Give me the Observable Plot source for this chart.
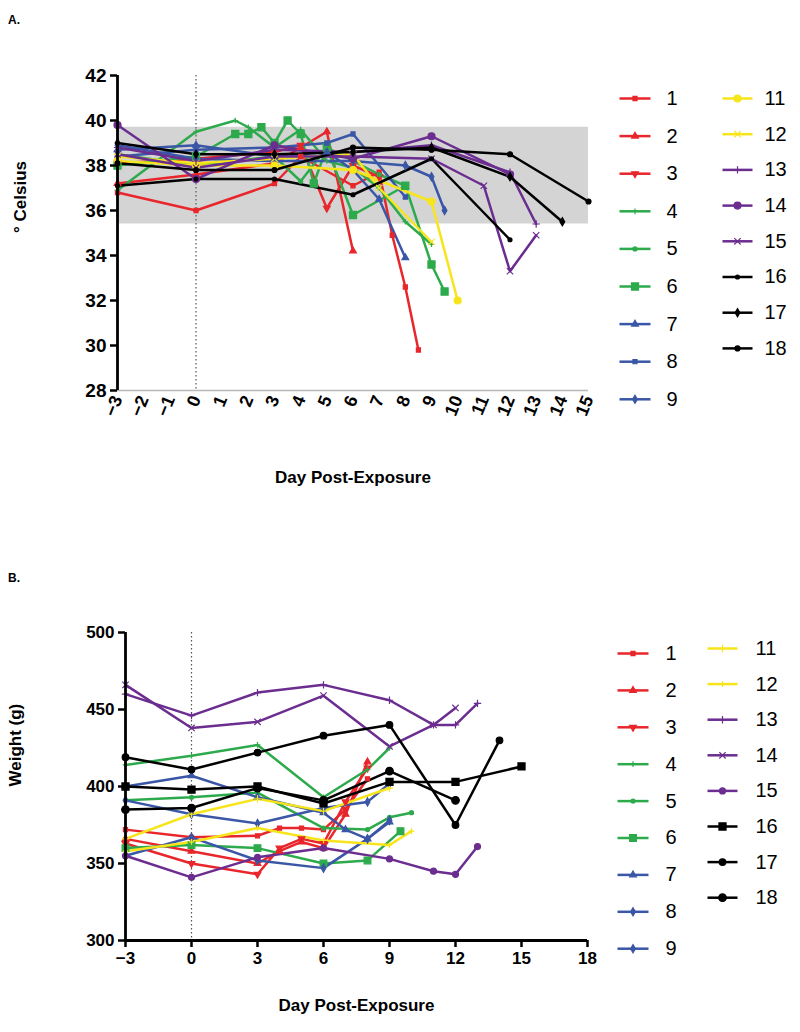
<!DOCTYPE html>
<html><head><meta charset="utf-8">
<script src="https://cdn.jsdelivr.net/npm/d3@7"></script>
<script src="https://cdn.jsdelivr.net/npm/@observablehq/plot@0.6"></script>
<style>
body{margin:0;background:#fff;font-family:"Liberation Sans",Arial,sans-serif;}
#wrap{position:relative;width:800px;height:1032px;overflow:hidden;}
.abs{position:absolute;}
.plabel{font-weight:bold;font-size:12px;}
</style></head><body><div id="wrap"></div>
<script>
// ---------- Panel A: body temperature (°C) ----------
const tempS1  = [[-3,36.8],[0,36.0],[3,37.2],[4,38.4],[6,37.1],[7,37.7],[7.5,34.9],[8,32.6],[8.5,29.8]];
const tempS2  = [[-3,37.2],[0,37.6],[3,38.1],[4,38.8],[5,39.5],[6,34.2]];
const tempS3  = [[-3,38.1],[0,38.3],[3,38.6],[4,38.9],[5,36.1],[6,38.0],[7,37.5]];
const tempS4  = [[-3,36.9],[0,39.5],[1.5,40.0],[2,39.7],[3,38.8],[4,39.6],[5,38.2],[6,37.9],[7,37.0],[8,35.5],[9,34.5]];
const tempS5  = [[-3,38.5],[0,38.0],[3,38.4],[4,37.3],[5,38.8],[6,38.2],[7,37.6],[8,37.1]];
const tempS6  = [[-3,38.0],[0,38.4],[1.5,39.4],[2,39.4],[2.5,39.7],[3,39.0],[3.5,40.0],[4,39.4],[4.5,37.2],[5,38.8],[6,35.8],[8,37.1],[9,33.6],[9.5,32.4]];
const tempS7  = [[-3,38.7],[0,38.9],[3,38.4],[5,38.6],[6,37.8],[7,36.5],[8,33.9]];
const tempS8  = [[-3,38.4],[0,38.7],[3,38.8],[5,39.0],[6,39.4],[8,36.6]];
const tempS9  = [[-3,38.9],[0,38.3],[3,38.2],[6,38.2],[8,38.0],[9,37.5],[9.5,36.0]];
const tempS11 = [[-3,38.2],[0,38.0],[3,38.0],[6,37.8],[9,36.4],[10,32.0]];
const tempS12 = [[-3,38.4],[0,38.1],[3,38.3],[6,38.5],[7,37.0],[9,34.6]];
const tempS13 = [[-3,38.8],[0,38.2],[3,38.7],[6,38.6],[9,38.9],[12,37.7],[13,35.4]];
const tempS14 = [[-3,39.8],[0,37.4],[3,38.9],[6,38.3],[9,39.3],[12,37.6]];
const tempS15 = [[-3,38.5],[0,37.9],[3,38.4],[6,38.4],[9,38.3],[11,37.1],[12,33.3],[13,34.9]];
const tempS16 = [[-3,37.1],[0,37.4],[3,37.4],[6,36.7],[9,38.3],[12,34.7]];
const tempS17 = [[-3,39.0],[0,38.5],[3,38.5],[6,38.6],[9,38.8],[12,37.5],[14,35.5]];
const tempS18 = [[-3,38.1],[0,37.8],[3,37.8],[6,38.8],[9,38.7],[12,38.5],[15,36.4]];
const normalBandLow = 35.4, normalBandHigh = 39.7;
const tempTicksY = [28,30,32,34,36,38,40,42];
const tempTicksX = [-3,-2,-1,0,1,2,3,4,5,6,7,8,9,10,11,12,13,14,15];

// ---------- Panel B: body weight (g) ----------
const weightS1  = [[-3,372],[0,367],[3,368],[4,373],[5,373],[6,372],[7,385],[8,405]];
const weightS2  = [[-3,366],[0,358],[3,350],[4,358],[5,364],[6,360],[7,382],[8,416]];
const weightS3  = [[-3,363],[0,350],[3,343],[4,360],[5,366],[6,363],[7,390],[8,412]];
const weightS4  = [[-3,414],[0,420],[3,427],[6,393],[8,411],[9,425]];
const weightS5  = [[-3,391],[0,393],[3,396],[6,373],[8,372],[9,380],[10,383]];
const weightS6  = [[-3,360],[0,362],[3,360],[6,350],[8,352],[9.5,371]];
const weightS7  = [[-3,400],[0,407],[3,393],[6,383],[7,372],[8,366],[9,377]];
const weightS8  = [[-3,391],[0,382],[3,376],[6,386],[8,390],[9,402]];
const weightS9  = [[-3,355],[0,367],[3,352],[6,347],[8,366],[9,378]];
const weightS11 = [[-3,366],[0,382],[3,392],[6,384],[9,399]];
const weightS12 = [[-3,358],[0,364],[3,373],[6,365],[9,362],[10,371]];
const weightS13 = [[-3,460],[0,446],[3,461],[6,466],[9,456],[11,440],[12,440],[13,454]];
const weightS14 = [[-3,466],[0,438],[3,442],[6,459],[9,426],[11,440],[12,451]];
const weightS15 = [[-3,355],[0,341],[3,354],[6,360],[9,353],[11,345],[12,343],[13,361]];
const weightS16 = [[-3,400],[0,398],[3,400],[6,389],[9,403],[12,403],[15,413]];
const weightS17 = [[-3,419],[0,411],[3,422],[6,433],[9,440],[12,375],[14,430]];
const weightS18 = [[-3,385],[0,386],[3,399],[6,391],[9,410],[12,391]];
const weightTicksY = [300,350,400,450,500];
const weightTicksX = [-3,0,3,6,9,12,15,18];

const seriesIds = ["1","2","3","4","5","6","7","8","9","11","12","13","14","15","16","17","18"];
const tempList = [tempS1,tempS2,tempS3,tempS4,tempS5,tempS6,tempS7,tempS8,tempS9,tempS11,tempS12,tempS13,tempS14,tempS15,tempS16,tempS17,tempS18];
const weightList = [weightS1,weightS2,weightS3,weightS4,weightS5,weightS6,weightS7,weightS8,weightS9,weightS11,weightS12,weightS13,weightS14,weightS15,weightS16,weightS17,weightS18];

// ---------- styles ----------
const RED="#e8262b", GREEN="#2daa4b", BLUE="#3a56a6", YELLOW="#f7e51b", PURPLE="#6b2d8f", BLACK="#000000";
const colorOf = {"1":RED,"2":RED,"3":RED,"4":GREEN,"5":GREEN,"6":GREEN,"7":BLUE,"8":BLUE,"9":BLUE,"11":YELLOW,"12":YELLOW,"13":PURPLE,"14":PURPLE,"15":PURPLE,"16":BLACK,"17":BLACK,"18":BLACK};
const markA = {"1":["square",2.3,0],"2":["triangle",2.5,0],"3":["triangle",2.5,180],"4":["plus",2,0],"5":["circle",2,0],"6":["square",4,0],"7":["triangle",2.5,0],"8":["square",2.3,0],"9":["diamond",2.5,0],"11":["circle",3.5,0],"12":["times",3,0],"13":["plus",2.5,0],"14":["circle",3.5,0],"15":["times",3,0],"16":["circle",2,0],"17":["diamond",2.5,0],"18":["circle",2.5,0]};
const markB = {"1":["square",2.3,0],"2":["triangle",2.5,0],"3":["triangle",2.5,180],"4":["plus",2,0],"5":["circle",2,0],"6":["square",3.8,0],"7":["triangle",2.5,0],"8":["diamond",2.5,0],"9":["diamond",2.5,0],"11":["plus",2.5,0],"12":["plus",2,0],"13":["plus",2.5,0],"14":["times",3,0],"15":["circle",3,0],"16":["square",4,0],"17":["circle",3.3,0],"18":["circle",3.8,0]};

const FONT = '"Liberation Sans", Arial, sans-serif';
const wrap = document.getElementById("wrap");
function place(node, left, top){ node.classList.add("abs"); node.style.left=left+"px"; node.style.top=top+"px"; wrap.appendChild(node); return node; }

function seriesMarks(list, marks){
  const out = [];
  list.forEach((pts, i) => {
    const id = seriesIds[i];
    out.push(Plot.line(pts, {x: d=>d[0], y: d=>d[1], stroke: colorOf[id], strokeWidth: 2.5}));
  });
  list.forEach((pts, i) => {
    const id = seriesIds[i];
    const [sym, r, rot] = marks[id];
    out.push(Plot.dot(pts, {x: d=>d[0], y: d=>d[1], symbol: sym, r, rotate: rot, fill: colorOf[id], stroke: colorOf[id], strokeWidth: 1.2}));
  });
  return out;
}

const la = document.createElement("div"); la.className="plabel"; la.textContent="A."; place(la, 8, 13);
const lb = document.createElement("div"); lb.className="plabel"; lb.textContent="B."; place(lb, 8, 571);

// ---------- Panel A plot ----------
const plotA = Plot.plot({
  width: 600, height: 500,
  marginLeft: 117, marginRight: 12, marginTop: 75, marginBottom: 110,
  x: {domain: [-3, 15]},
  y: {domain: [28, 42]},
  style: {fontFamily: FONT, color: "#000", background: "transparent"},
  marks: [
    Plot.rect([{x1: -3, x2: 15, y1: normalBandLow, y2: normalBandHigh}], {x1:"x1", x2:"x2", y1:"y1", y2:"y2", fill: "#d4d4d4"}),
    Plot.ruleY([28], {stroke: "#b8b8b8", strokeWidth: 1.5}),
    Plot.ruleX([0], {stroke: "#555", strokeWidth: 1.2, strokeDasharray: "1.5,2.5"}),
    ...seriesMarks(tempList, markA),
    Plot.ruleX([-3], {stroke: "#000", strokeWidth: 2.8}),
    Plot.axisY({ticks: tempTicksY, tickSize: 7, tickPadding: 4, strokeWidth: 2.5, fontSize: 19, fontWeight: "bold", label: null}),
    Plot.axisX({ticks: tempTicksX, tickSize: 0, tickPadding: 6, tickRotate: -68, fontSize: 18, fontWeight: "bold", label: null}),
    Plot.text(["° Celsius"], {frameAnchor: "left", dx: -97, rotate: -90, fontSize: 17, fontWeight: "bold"}),
    Plot.text(["Day Post-Exposure"], {frameAnchor: "bottom", dy: 92, fontSize: 17, fontWeight: "bold"})
  ]
});
place(plotA, 0, 0);

// ---------- Panel B plot ----------
const plotB = Plot.plot({
  width: 600, height: 492,
  marginLeft: 125, marginRight: 13, marginTop: 92, marginBottom: 92,
  x: {domain: [-3, 18]},
  y: {domain: [300, 500]},
  style: {fontFamily: FONT, color: "#000", background: "transparent"},
  marks: [
    Plot.ruleX([0], {stroke: "#555", strokeWidth: 1.2, strokeDasharray: "1.5,2.5"}),
    ...seriesMarks(weightList, markB),
    Plot.ruleX([-3], {stroke: "#000", strokeWidth: 2.8}),
    Plot.ruleY([300], {stroke: "#000", strokeWidth: 2.8}),
    Plot.axisY({ticks: weightTicksY, tickSize: 7, tickPadding: 4, strokeWidth: 2.5, fontSize: 17, fontWeight: "bold", label: null}),
    Plot.axisX({ticks: weightTicksX, tickSize: 7, tickPadding: 4, strokeWidth: 2.5, fontSize: 17, fontWeight: "bold", label: null}),
    Plot.text(["Weight (g)"], {frameAnchor: "left", dx: -110, rotate: -90, fontSize: 17, fontWeight: "bold"}),
    Plot.text(["Day Post-Exposure"], {frameAnchor: "bottom", dy: 70, fontSize: 17, fontWeight: "bold"})
  ]
});
place(plotB, 0, 540);

// ---------- Legends ----------
function legend(marks, geo){
  const entries = seriesIds.map((id, i) => {
    const col = i < 9 ? 0 : 1;
    const row = col === 0 ? i : i - 9;
    const g = geo[col];
    return {id, x1: g.x1, x2: g.x2, xm: (g.x1 + g.x2) / 2, xt: g.xt, y: g.y0 + row * g.dy};
  });
  const m = [];
  for (const e of entries) {
    const [sym, r, rot] = marks[e.id];
    m.push(Plot.link([e], {x1:"x1", x2:"x2", y1:"y", y2:"y", stroke: colorOf[e.id], strokeWidth: 2.5}));
    m.push(Plot.dot([e], {x:"xm", y:"y", symbol: sym, r, rotate: rot, fill: colorOf[e.id], stroke: colorOf[e.id], strokeWidth: 1.2}));
  }
  m.push(Plot.text(entries, {x:"xt", y:"y", text:"id", textAnchor:"start", fontSize: 20, fill:"#000"}));
  return Plot.plot({
    width: 200, height: 360, margin: 0,
    x: {type: "identity", axis: null}, y: {type: "identity", axis: null},
    style: {fontFamily: FONT, background: "transparent"},
    marks: m
  });
}
place(legend(markA, [{x1:19, x2:50, xt:66, y0:28, dy:37.6}, {x1:122, x2:152, xt:164, y0:28, dy:35.7}]), 600, 70);
place(legend(markB, [{x1:17, x2:48, xt:65, y0:33, dy:36.9}, {x1:107, x2:137, xt:155, y0:28, dy:35.6}]), 600, 620);
</script></body></html>
